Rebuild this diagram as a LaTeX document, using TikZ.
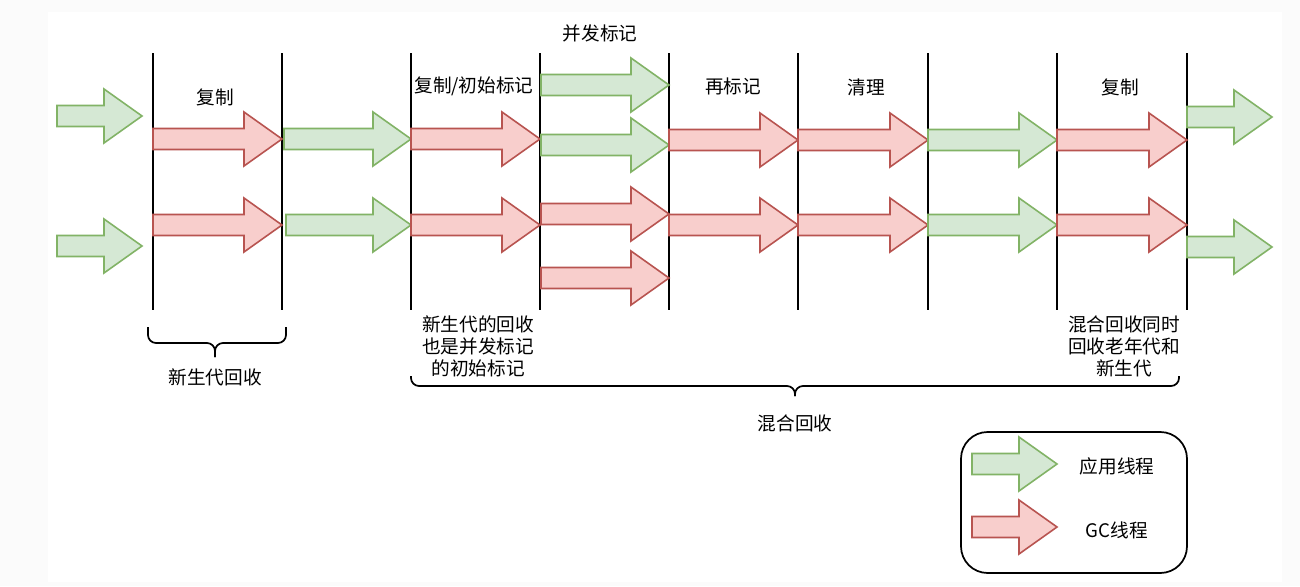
\documentclass[tikz,border=0pt]{standalone}
\usepackage{fontspec}
\setmainfont{Noto Sans CJK SC}
\definecolor{gfill}{HTML}{D5E8D4}
\definecolor{gline}{HTML}{82B366}
\definecolor{rfill}{HTML}{F8CECC}
\definecolor{rline}{HTML}{B85450}
\definecolor{bgout}{HTML}{FBFBFB}
\tikzset{
  app/.style={fill=gfill,draw=gline,line width=1.2pt,line join=miter},
  gc/.style={fill=rfill,draw=rline,line width=1.2pt,line join=miter},
  vline/.style={draw=black,line width=1.5pt},
  brace/.style={draw=black,line width=1.3pt,rounded corners=6pt},
  lbl/.style={font=\fontsize{14}{16.5}\selectfont,inner sep=0pt,align=center,text=black},
}
% block arrow: style, x-start, x-end, y-centre
\newcommand{\blkarrow}[4]{%
  \draw[#1] (#2,#4-10.5) -- (#3-38,#4-10.5) -- (#3-38,#4-27) -- (#3,#4)
    -- (#3-38,#4+27) -- (#3-38,#4+10.5) -- (#2,#4+10.5) -- cycle;}
\begin{document}
\begin{tikzpicture}[x=0.75pt,y=-0.75pt]
\useasboundingbox (0,0) rectangle (1300,586);
\fill[bgout] (0,0) rectangle (1300,586);
\fill[white] (48,12) rectangle (1282,582);

% vertical phase lines
\foreach \i/\x in {1/153,2/282,3/411,4/540,5/669,6/798,7/928,8/1057,9/1187}{
  \coordinate (t\i) at (\x,53);
  \coordinate (b\i) at (\x,310);
  \draw[vline] (t\i) -- (b\i);
}

% arrows
\blkarrow{app}{57}{142}{116}
\blkarrow{app}{57}{142}{246}
\blkarrow{gc}{153}{282}{139}
\blkarrow{gc}{153}{282}{225}
\blkarrow{app}{284}{411}{139}
\blkarrow{app}{286}{411}{225}
\blkarrow{gc}{411}{540}{139}
\blkarrow{gc}{411}{540}{225}
\blkarrow{app}{541}{669}{85}
\blkarrow{app}{541}{669}{145}
\blkarrow{gc}{541}{669}{214}
\blkarrow{gc}{541}{669}{278}
\blkarrow{gc}{669}{798}{140}
\blkarrow{gc}{669}{798}{225}
\blkarrow{gc}{798}{928}{140}
\blkarrow{gc}{798}{928}{225}
\blkarrow{app}{928}{1057}{140}
\blkarrow{app}{928}{1057}{225}
\blkarrow{gc}{1057}{1187}{140}
\blkarrow{gc}{1057}{1187}{225}
\blkarrow{app}{1187}{1272}{117}
\blkarrow{app}{1187}{1272}{247}

% phase labels
\node[lbl] (l1) at (215,97) {复制};
\node[lbl] (l2) at (474,86) {复制/初始标记};
\node[lbl] (l3) at (600,33) {并发标记};
\node[lbl] (l4) at (733,86) {再标记};
\node[lbl] (l5) at (866,87) {清理};
\node[lbl] (l6) at (1120,87) {复制};

% young collection brace
\coordinate (ya) at (148,327);
\coordinate (yb) at (286,327);
\draw[brace] (ya) -- (148,343) -- (215,343) -- (215,357);
\draw[brace] (yb) -- (286,343) -- (215,343) -- (215,357);
\node[lbl] (ytxt) at (215,377) {新生代回收};

% notes
\node[lbl] (n1) at (478,346) {新生代的回收\\也是并发标记\\的初始标记};
\node[lbl] (n2) at (1124,346) {混合回收同时\\回收老年代和\\新生代};

% mixed collection brace
\coordinate (ma) at (411,376);
\coordinate (mb) at (1179,376);
\draw[brace] (ma) -- (411,386) -- (795,386) -- (795,396);
\draw[brace] (mb) -- (1179,386) -- (795,386) -- (795,396);
\node[lbl] (mtxt) at (795,423) {混合回收};

% legend
\draw[line width=1.3pt,rounded corners=20pt] (961,432) rectangle (1187,573);
\blkarrow{app}{972}{1057}{464}
\blkarrow{gc}{972}{1057}{527}
\node[lbl] (lg1) at (1117,466) {应用线程};
\node[lbl] (lg2) at (1117,530) {GC线程};
\end{tikzpicture}
\end{document}
